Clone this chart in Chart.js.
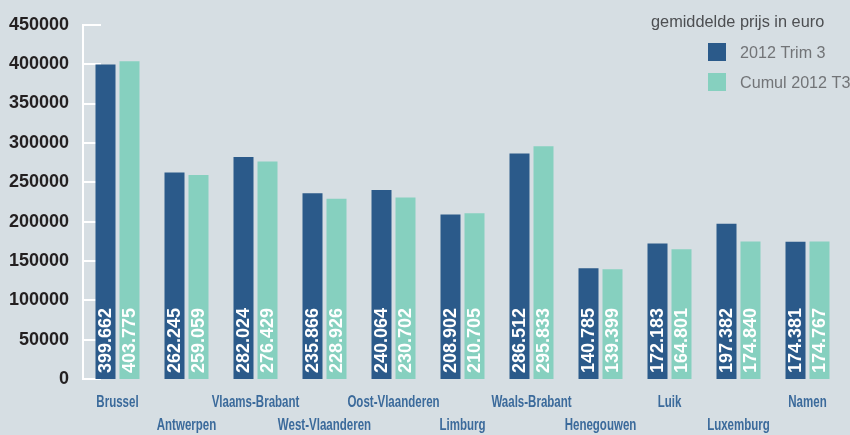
<!DOCTYPE html>
<html>
<head>
<meta charset="utf-8">
<script src="https://cdn.jsdelivr.net/npm/chart.js@4/dist/chart.umd.min.js"></script>
<style>
  html, body { margin: 0; padding: 0; background: #d6dee3; }
  #wrap { width: 850px; height: 435px; position: relative; }
</style>
</head>
<body>
<div id="wrap"><canvas id="chart" width="850" height="435"></canvas></div>
<script>
var provinces = ['Brussel', 'Antwerpen', 'Vlaams-Brabant', 'West-Vlaanderen', 'Oost-Vlaanderen',
    'Limburg', 'Waals-Brabant', 'Henegouwen', 'Luik', 'Luxemburg', 'Namen'];
var trim3 = [399662, 262245, 282024, 235866, 240064, 208902, 286512, 140785, 172183, 197382, 174381];
var cumulT3 = [403775, 259059, 276429, 228926, 230702, 210705, 295833, 139399, 164801, 174840, 174767];
var seriesNames = ['2012 Trim 3', 'Cumul 2012 T3'];
var legendTitle = 'gemiddelde prijs in euro';
var yMax = 450000;
var yStep = 50000;

var darkBlue = '#2b5a8a';
var mint = '#86d0bf';
var sans = "'Liberation Sans', Arial, sans-serif";

function dotted(v) {
    return String(v).replace(/\B(?=(\d{3})+(?!\d))/g, '.');
}

// draw text squeezed horizontally, the original uses a condensed face
function narrowText(ctx, text, x, y, squeeze) {
    var w = ctx.measureText(text).width;
    ctx.fillText(text, x, y, w * squeeze);
}

// short white tick marks that stick into the plot from the axis
var innerTicks = {
    id: 'innerTicks',
    beforeDatasetsDraw: function (chart) {
        var ctx = chart.ctx;
        var y = chart.scales.y;
        var left = chart.chartArea.left;
        ctx.save();
        ctx.strokeStyle = '#ffffff';
        ctx.lineWidth = 2;
        for (var v = 0; v <= yMax; v += yStep) {
            var py = Math.round(y.getPixelForValue(v));
            ctx.beginPath();
            ctx.moveTo(left - 1, py);
            ctx.lineTo(left + 18, py);
            ctx.stroke();
        }
        ctx.restore();
    }
};

// vertical value labels inside each bar
var barValues = {
    id: 'barValues',
    afterDatasetsDraw: function (chart) {
        var ctx = chart.ctx;
        ctx.save();
        ctx.fillStyle = '#ffffff';
        ctx.font = "bold 18px " + sans;
        ctx.textAlign = 'left';
        ctx.textBaseline = 'middle';
        chart.data.datasets.forEach(function (ds, di) {
            var meta = chart.getDatasetMeta(di);
            meta.data.forEach(function (bar, i) {
                ctx.save();
                ctx.translate(bar.x + 1, bar.base - 6);
                ctx.rotate(-Math.PI / 2);
                ctx.fillText(dotted(ds.data[i]), 0, 0);
                ctx.restore();
            });
        });
        ctx.restore();
    }
};

// category names on two staggered rows
var xNames = {
    id: 'xNames',
    afterDraw: function (chart) {
        var ctx = chart.ctx;
        var x = chart.scales.x;
        ctx.save();
        ctx.fillStyle = '#3b6a9b';
        ctx.font = "bold 16px " + sans;
        ctx.textAlign = 'center';
        ctx.textBaseline = 'middle';
        chart.data.labels.forEach(function (name, i) {
            var py = x.top + (i % 2 ? 47 : 24);
            narrowText(ctx, name, x.getPixelForValue(i), py, 0.72);
        });
        ctx.restore();
    }
};

// legend in the top right corner, over the plot
var cornerLegend = {
    id: 'cornerLegend',
    afterDraw: function (chart) {
        var ctx = chart.ctx;
        ctx.save();
        ctx.textBaseline = 'middle';
        ctx.textAlign = 'left';
        ctx.fillStyle = '#4d4f52';
        ctx.font = "17px " + sans;
        narrowText(ctx, legendTitle, 651, 22, 0.96);
        chart.data.datasets.forEach(function (ds, i) {
            var top = 43 + i * 30;
            ctx.fillStyle = ds.backgroundColor;
            ctx.fillRect(708, top, 18, 18);
            ctx.fillStyle = '#727477';
            narrowText(ctx, ds.label, 740, top + 10, 0.95);
        });
        ctx.restore();
    }
};

var config = {
    type: 'bar',
    data: {
        labels: provinces,
        datasets: [{
            label: seriesNames[0],
            data: trim3,
            backgroundColor: darkBlue
        }, {
            label: seriesNames[1],
            data: cumulT3,
            backgroundColor: mint
        }]
    },
    options: {
        responsive: false,
        animation: false,
        categoryPercentage: 48 / 69,
        barPercentage: 20 / 24,
        layout: {
            padding: { top: 21, right: 8, left: 0, bottom: 0 }
        },
        plugins: {
            legend: { display: false },
            tooltip: { enabled: false }
        },
        scales: {
            x: {
                grid: { display: false, drawTicks: false },
                border: { display: false },
                ticks: { display: false },
                afterFit: function (scale) { scale.height = 56; }
            },
            y: {
                min: 0,
                max: yMax,
                grid: { display: false, drawTicks: false },
                border: { display: true, color: '#ffffff', width: 2 },
                ticks: {
                    stepSize: yStep,
                    padding: 14,
                    color: '#231f20',
                    font: { family: sans, size: 18, weight: 'bold' },
                    callback: function (value) { return String(value); }
                },
                afterFit: function (scale) { scale.width = 83; }
            }
        }
    },
    plugins: [innerTicks, barValues, xNames, cornerLegend]
};

var myChart = new Chart(document.getElementById('chart').getContext('2d'), config);
</script>
</body>
</html>
